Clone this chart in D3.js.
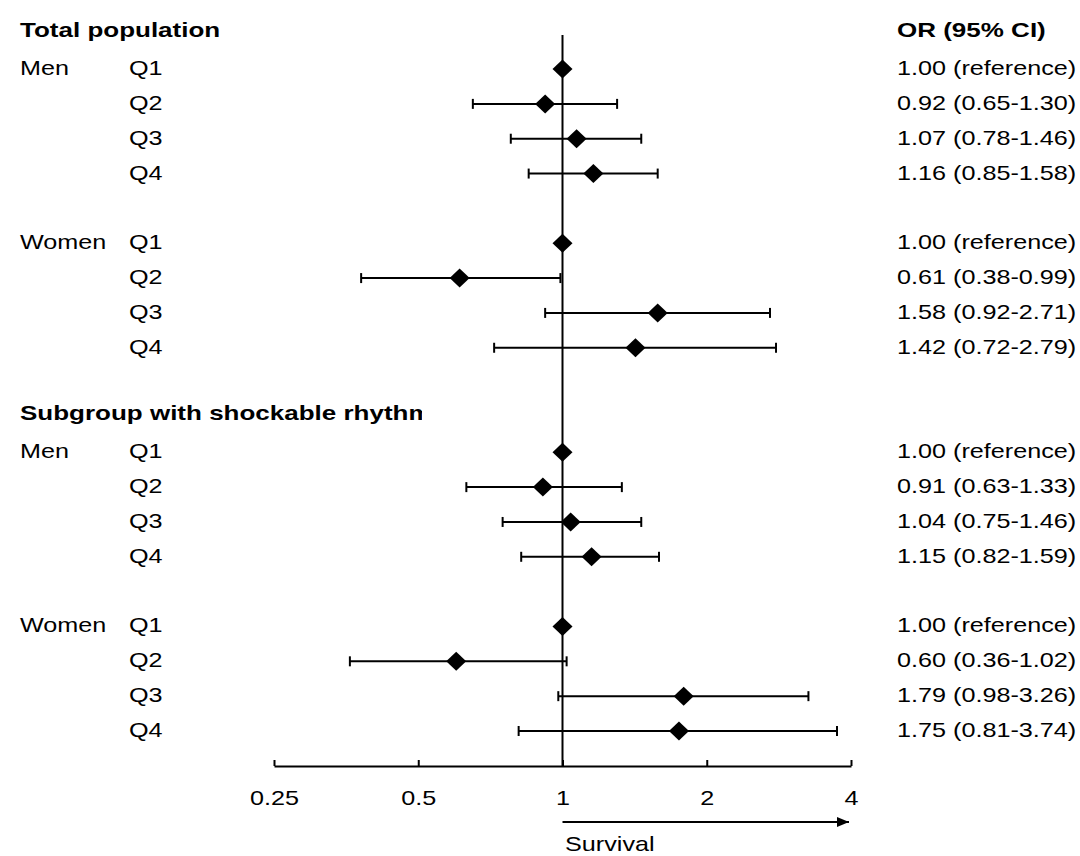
<!DOCTYPE html>
<html>
<head>
<meta charset="utf-8">
<script src="https://cdn.jsdelivr.net/npm/d3@7"></script>
<style>
  body { margin: 0; background: #fff; }
  text { font-family: "Liberation Sans", Arial, sans-serif; fill: #000; }
</style>
</head>
<body>
<div id="chart"></div>
<script>
const groups = ["Total population", "Subgroup with shockable rhythm"];
const sexes = ["Men", "Women"];
const quartiles = ["Q1", "Q2", "Q3", "Q4"];

// odds ratios in row order: group -> sex -> quartile
const oddsRatio = [1.00, 0.92, 1.07, 1.16, 1.00, 0.61, 1.58, 1.42,
                   1.00, 0.91, 1.04, 1.15, 1.00, 0.60, 1.79, 1.75];
const ciLower = [null, 0.65, 0.78, 0.85, null, 0.38, 0.92, 0.72,
                 null, 0.63, 0.75, 0.82, null, 0.36, 0.98, 0.81];
const ciUpper = [null, 1.30, 1.46, 1.58, null, 0.99, 2.71, 2.79,
                 null, 1.33, 1.46, 1.59, null, 1.02, 3.26, 3.74];

const xTicks = [0.25, 0.5, 1, 2, 4];
const xTickLabels = ["0.25", "0.5", "1", "2", "4"];

const width = 1080, height = 856;
const fs = 20, stretch = 1.26, boldStretch = 1.3;

const svg = d3.select("#chart").append("svg")
  .attr("width", width)
  .attr("height", height);

const x = d3.scaleLog().base(2).domain([0.25, 4]).range([274, 851]);
const y = d3.scaleLinear().domain([0, 20]).range([34.2, 731]);

// build row list: title row, 4 men rows, blank, 4 women rows, blank
const rows = [];
let slot = 0, k = 0;
groups.forEach((g, gi) => {
  rows.push({ type: "title", label: g, slot: slot++ });
  sexes.forEach((s, si) => {
    quartiles.forEach((q, qi) => {
      rows.push({
        type: "data", sex: qi === 0 ? s : "", q,
        or: oddsRatio[k], lo: ciLower[k], hi: ciUpper[k], slot: slot++
      });
      k++;
    });
    if (si === 0 || gi === 0) slot++;
  });
});

// horizontally stretched text, like the original export
function label(sel, tx, ty, str, bold) {
  const sx = bold ? boldStretch : stretch;
  return sel.append("text")
    .attr("transform", `translate(${tx},${ty}) scale(${sx},1)`)
    .attr("dy", "0.3em")
    .style("font-size", fs + "px")
    .style("font-weight", bold ? "bold" : "normal")
    .text(str);
}

const defs = svg.append("defs");
defs.append("clipPath").attr("id", "titleclip")
  .append("rect").attr("x", 0).attr("y", 0).attr("width", 422).attr("height", height);

defs.append("marker")
  .attr("id", "arrow")
  .attr("viewBox", "0 -5 12 10")
  .attr("refX", 12)
  .attr("markerWidth", 12)
  .attr("markerHeight", 10)
  .attr("markerUnits", "userSpaceOnUse")
  .attr("orient", "auto")
  .append("path")
  .attr("d", "M0,-5L12,0L0,5Z")
  .attr("fill", "#000");

// left-hand labels
const titles = rows.filter(d => d.type === "title");
const dataRows = rows.filter(d => d.type === "data");

const tg = svg.append("g").attr("clip-path", "url(#titleclip)");
titles.forEach(d => label(tg, 20, y(d.slot) - 3, d.label, true));

dataRows.forEach(d => {
  if (d.sex) label(svg, 20, y(d.slot), d.sex);
  label(svg, 129, y(d.slot), d.q);
});

// right-hand OR column
label(svg, 897, y(0) - 3, "OR (95% CI)", true);
dataRows.forEach(d => {
  const str = d.lo == null
    ? `${d.or.toFixed(2)} (reference)`
    : `${d.or.toFixed(2)} (${d.lo.toFixed(2)}-${d.hi.toFixed(2)})`;
  label(svg, 897, y(d.slot), str);
});

// axis, ticks pointing up
const axisY = 766;
const axis = d3.axisBottom(x)
  .tickValues(xTicks)
  .tickFormat((d, i) => xTickLabels[i])
  .tickSizeInner(-6)
  .tickSizeOuter(0)
  .tickPadding(25);

const ax = svg.append("g")
  .attr("transform", `translate(0,${axisY})`)
  .call(axis);
ax.select(".domain").attr("stroke", "#000").attr("stroke-width", 2);
ax.selectAll(".tick line").attr("stroke", "#000").attr("stroke-width", 2);
ax.selectAll(".tick text")
  .attr("font-family", null)
  .style("font-size", fs + "px")
  .attr("transform", `scale(${stretch},1)`);

// reference line at OR = 1
svg.append("line")
  .attr("x1", x(1)).attr("x2", x(1))
  .attr("y1", 35).attr("y2", axisY)
  .attr("stroke", "#000").attr("stroke-width", 2);

// confidence intervals
const ci = svg.append("g").selectAll("g")
  .data(dataRows.filter(d => d.lo != null))
  .join("g")
  .attr("stroke", "#000").attr("stroke-width", 2);

ci.append("line")
  .attr("x1", d => x(d.lo)).attr("x2", d => x(d.hi))
  .attr("y1", d => y(d.slot)).attr("y2", d => y(d.slot));
ci.append("line")
  .attr("x1", d => x(d.lo)).attr("x2", d => x(d.lo))
  .attr("y1", d => y(d.slot) - 5).attr("y2", d => y(d.slot) + 5);
ci.append("line")
  .attr("x1", d => x(d.hi)).attr("x2", d => x(d.hi))
  .attr("y1", d => y(d.slot) - 5).attr("y2", d => y(d.slot) + 5);

// point estimates
svg.append("g").selectAll("path")
  .data(dataRows)
  .join("path")
  .attr("transform", d => `translate(${x(d.or)},${y(d.slot)})`)
  .attr("d", "M0,-9.5L10,0L0,9.5L-10,0Z")
  .attr("fill", "#000");

// direction arrow
svg.append("line")
  .attr("x1", x(1)).attr("x2", x(4) - 2)
  .attr("y1", 822).attr("y2", 822)
  .attr("stroke", "#000").attr("stroke-width", 2)
  .attr("marker-end", "url(#arrow)");

label(svg, 565, 845, "Survival");
</script>
</body>
</html>
